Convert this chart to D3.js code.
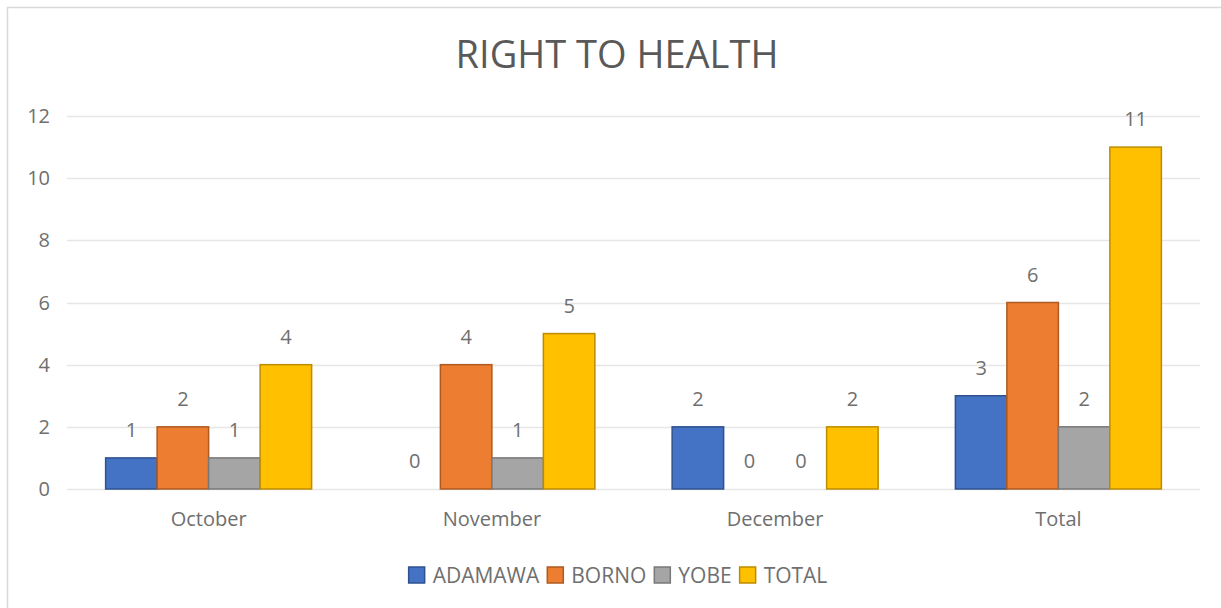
<!DOCTYPE html>
<html>
<head>
<meta charset="utf-8">
<script src="https://cdn.jsdelivr.net/npm/d3@7"></script>
<style>
  body { margin: 0; background: #fff; }
  text { font-family: "Open Sans", sans-serif; }
</style>
</head>
<body>
<div id="app"></div>
<script>
// Data
const months = ['October', 'November', 'December', 'Total'];
const states = ['ADAMAWA', 'BORNO', 'YOBE', 'TOTAL'];
const adamawa = [1, 0, 2, 3];
const borno = [2, 4, 0, 6];
const yobe = [1, 1, 0, 2];
const total = [4, 5, 2, 11];
const yTicks = [0, 2, 4, 6, 8, 10, 12];

const seriesValues = [adamawa, borno, yobe, total];
const fills = ['#4472C4', '#ED7D31', '#A5A5A5', '#FFC000'];
const strokes = ['#2F528F', '#AE5A21', '#787878', '#BC8C00'];

const W = 1221, H = 608;
const plotLeft = 67, plotRight = 1200, plotTop = 116, plotBottom = 489;

const svg = d3.select('#app').append('svg')
  .attr('width', W).attr('height', H);

// outer chart border
svg.append('rect')
  .attr('x', 7.5).attr('y', 7.5)
  .attr('width', W + 20).attr('height', H + 20)
  .attr('fill', 'none').attr('stroke', '#d9d9d9').attr('stroke-width', 1.5);

svg.append('text')
  .attr('x', 617).attr('y', 68)
  .attr('text-anchor', 'middle')
  .attr('font-size', 38)
  .attr('fill', '#595959')
  .text('RIGHT TO HEALTH');

const y = d3.scaleLinear().domain([0, 12]).range([plotBottom, plotTop]);
const x0 = d3.scaleBand().domain(months).range([plotLeft, plotRight]).padding(0);
const gap = x0.bandwidth() * 1.5 / 5.5;
const x1 = d3.scaleBand().domain(states)
  .range([gap / 2, x0.bandwidth() - gap / 2]).padding(0);

// gridlines
svg.append('g').selectAll('line')
  .data(yTicks)
  .join('line')
  .attr('x1', plotLeft).attr('x2', plotRight)
  .attr('y1', (d) => Math.round(y(d)) + 0.5)
  .attr('y2', (d) => Math.round(y(d)) + 0.5)
  .attr('stroke', '#e6e6e6').attr('stroke-width', 1.3);

// y tick labels
svg.append('g').selectAll('text')
  .data(yTicks)
  .join('text')
  .attr('x', 50).attr('y', (d) => y(d) + 7)
  .attr('text-anchor', 'end')
  .attr('font-size', 20)
  .attr('fill', '#6f6f6f')
  .text((d) => d);

// x category labels
svg.append('g').selectAll('text')
  .data(months)
  .join('text')
  .attr('x', (d) => x0(d) + x0.bandwidth() / 2)
  .attr('y', 526)
  .attr('text-anchor', 'middle')
  .attr('font-size', 20)
  .attr('fill', '#6f6f6f')
  .text((d) => d);

const rows = months.map((m, i) => ({
  month: m,
  vals: states.map((s, j) => ({ state: s, j, value: seriesValues[j][i] }))
}));

const g = svg.append('g').selectAll('g.group')
  .data(rows)
  .join('g')
  .attr('class', 'group')
  .attr('transform', (d) => `translate(${x0(d.month)},0)`);

g.selectAll('rect')
  .data((d) => d.vals.filter((v) => v.value > 0))
  .join('rect')
  .attr('x', (d) => x1(d.state))
  .attr('y', (d) => y(d.value))
  .attr('width', x1.bandwidth())
  .attr('height', (d) => y(0) - y(d.value))
  .attr('fill', (d) => fills[d.j])
  .attr('stroke', (d) => strokes[d.j])
  .attr('stroke-width', 1.5);

g.selectAll('text')
  .data((d) => d.vals)
  .join('text')
  .attr('x', (d) => x1(d.state) + x1.bandwidth() / 2)
  .attr('y', (d) => y(d.value) - 21)
  .attr('text-anchor', 'middle')
  .attr('font-size', 20)
  .attr('fill', '#6f6f6f')
  .text((d) => d.value);

// legend
const legend = svg.append('g');
const items = legend.selectAll('g')
  .data(states)
  .join('g');
items.append('rect')
  .attr('width', 16).attr('height', 16)
  .attr('y', 567)
  .attr('fill', (d, i) => fills[i])
  .attr('stroke', (d, i) => strokes[i])
  .attr('stroke-width', 1.5);
items.append('text')
  .attr('x', 24).attr('y', 583)
  .attr('font-size', 21)
  .attr('fill', '#6f6f6f')
  .text((d) => d);

const widths = [];
items.each(function () {
  const w = 24 + d3.select(this).select('text').node().getComputedTextLength();
  widths.push(w);
});
const totalW = d3.sum(widths) + 8 * (widths.length - 1);
let pos = 618 - totalW / 2;
items.attr('transform', (d, i) => {
  const t = `translate(${pos},0)`;
  pos += widths[i] + 8;
  return t;
});
</script>
</body>
</html>
